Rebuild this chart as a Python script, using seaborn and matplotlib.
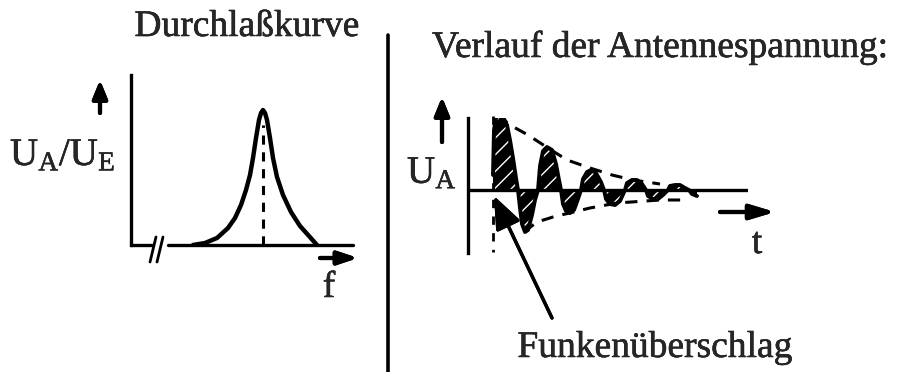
import numpy as np
import pandas as pd
import matplotlib.pyplot as plt
import seaborn as sns
from matplotlib.lines import Line2D
import matplotlib.patheffects as pe

# Durchlaßkurve (resonance curve) (arbitrary units)
f_vals = [6.2, 7.4, 8.6, 9.7, 10.4, 11.0, 11.5, 11.9, 12.2, 12.5, 12.8, 13.0, 13.2,
          13.4, 13.6, 13.9, 14.2, 14.6, 15.2, 16.0, 16.9, 17.8, 18.6]
ua_ue = [0.0, 0.2, 0.7, 1.7, 2.7, 4.0, 5.5, 7.0, 8.7, 10.7, 12.5, 13.2, 13.5,
         13.2, 12.5, 10.7, 8.7, 6.8, 5.0, 3.3, 1.9, 0.9, 0.0]
f_res = 13.2
res_top = 12.0

# Verlauf der Antennenspannung (damped oscillation)
t_vals = [2.5, 2.5, 2.6, 2.8, 3.1, 3.5, 3.9, 4.2, 4.5, 4.8, 5.0,
          5.2, 5.4, 5.7, 6.0, 6.4, 6.7, 7.0,
          7.2, 7.5, 7.9, 8.4, 8.8, 9.1, 9.3,
          9.5, 9.8, 10.2, 10.6, 11.0, 11.3,
          11.5, 11.9, 12.3, 12.8, 13.3, 13.6,
          13.8, 14.2, 14.7, 15.2, 15.7,
          15.9, 16.4, 16.9, 17.4, 17.8,
          18.0, 18.5, 19.0, 19.5, 20.0,
          20.2, 20.7, 21.2, 21.7, 22.1,
          22.4, 22.9]
ua_vals = [0.0, 3.0, 6.0, 7.2, 7.5, 7.3, 6.5, 5.0, 3.2, 1.2, 0.0,
           -1.8, -3.4, -4.2, -4.0, -2.5, -1.0, 0.0,
           2.4, 3.9, 4.3, 4.0, 2.6, 1.0, 0.0,
           -1.4, -2.1, -2.3, -2.0, -0.9, 0.0,
           1.1, 1.8, 2.0, 1.7, 0.8, 0.0,
           -0.9, -1.4, -1.5, -1.1, 0.0,
           0.7, 1.0, 1.0, 0.6, 0.0,
           -0.6, -0.9, -0.9, -0.5, 0.0,
           0.4, 0.5, 0.5, 0.2, 0.0,
           -0.4, -0.6]

# envelopes
env_up_t = [3.0, 4.2, 6.0, 8.0, 9.9, 12.2, 14.4, 16.5, 19.2]
env_up_u = [7.5, 6.5, 5.5, 4.2, 3.0, 2.2, 1.5, 1.0, 0.6]
env_lo_t = [5.6, 6.9, 8.5, 12.2, 14.9, 19.2, 21.9]
env_lo_u = [-4.2, -3.2, -2.7, -1.8, -1.3, -1.0, -1.0]
t_spark = 2.5

sns.set_style("white")
plt.rcParams['font.family'] = ['Liberation Serif', 'DejaVu Serif']
plt.rcParams['mathtext.fontset'] = 'custom'
plt.rcParams['mathtext.rm'] = 'Liberation Serif'
plt.rcParams['hatch.linewidth'] = 1.0

W, H = 897, 372
fig = plt.figure(figsize=(W / 100, H / 100), dpi=100)

def fx(px):
    return px / W

def fy(py):
    return 1 - py / H

# ---- left panel
ax1 = fig.add_axes([fx(131), fy(245), 222 / W, 170 / H])
ax1.set_xlim(0, 22.2)
ax1.set_ylim(0, 17)
sns.lineplot(x=f_vals, y=ua_ue, sort=False, color='black', lw=3.2, ax=ax1)
ax1.plot([f_res, f_res], [0, res_top], color='black', lw=2.2, ls=(0, (3, 2.5)))
for s in ['top', 'right', 'bottom']:
    ax1.spines[s].set_visible(False)
ax1.spines['left'].set_linewidth(2.4)
ax1.spines['left'].set_color('black')
ax1.axhline(0, xmin=0, xmax=0.095, color='black', lw=2.4, clip_on=False)
ax1.axhline(0, xmin=0.167, xmax=1, color='black', lw=2.4, clip_on=False)
ax1.plot([1.9, 2.5], [-1.7, 0.8], color='black', lw=2, clip_on=False)
ax1.plot([2.6, 3.2], [-1.7, 0.8], color='black', lw=2, clip_on=False)
ax1.set_xticks([])
ax1.set_yticks([])
ax1.patch.set_alpha(0)

# ---- right panel
ax2 = fig.add_axes([fx(468), fy(253), 280 / W, 135 / H])
ax2.set_xlim(0, 28)
ax2.set_ylim(-6.3, 7.2)
t_arr = np.array(t_vals)
u_arr = np.array(ua_vals)
ax2.fill_between(t_arr, u_arr, 0, facecolor='black', edgecolor='white',
                 hatch='//', lw=0, zorder=2)
sns.lineplot(x=t_vals, y=ua_vals, sort=False, color='black', lw=2.8, ax=ax2, zorder=3)
sns.lineplot(x=env_up_t, y=env_up_u, sort=False, color='black', lw=2.2,
             ls=(0, (4, 3)), ax=ax2)
sns.lineplot(x=env_lo_t, y=env_lo_u, sort=False, color='black', lw=2.2,
             ls=(0, (4, 3)), ax=ax2)
ax2.plot([t_spark, t_spark], [7.4, -6.2], color='black', lw=2,
         ls=(0, (3, 3)), clip_on=False)
ax2.axhline(0, color='black', lw=2.4, zorder=4)
for s in ['top', 'right', 'bottom']:
    ax2.spines[s].set_visible(False)
ax2.spines['left'].set_linewidth(2.4)
ax2.spines['left'].set_color('black')
ax2.set_xticks([])
ax2.set_yticks([])
ax2.patch.set_alpha(0)

# ---- arrows (figure pixels)
def arrow(p0, p1, hl=1.1, hw=0.45, lw=3):
    fig.add_artist(plt.annotate('', xy=(p1[0], H - p1[1]), xytext=(p0[0], H - p0[1]),
                                xycoords='figure pixels', textcoords='figure pixels',
                                arrowprops=dict(arrowstyle=f'-|>,head_length={hl},head_width={hw}',
                                                color='black', lw=lw, shrinkA=0, shrinkB=0)))

arrow((100, 113), (100, 80))
arrow((320, 258), (358, 258), hl=1.2, hw=0.4)
arrow((442, 142), (442, 97))
arrow((720, 212), (775, 212), hl=1.5, hw=0.45)
arrow((552, 318), (494, 196), hl=2.0, hw=0.8, lw=2.4)

# divider
fig.add_artist(Line2D([fx(388), fx(388)], [fy(35), fy(372)], color='black', lw=2.6))

# ---- texts (thin stroke to mimic the heavy print)
fs = 27
ink = [pe.withStroke(linewidth=0.35, foreground='black')]
fig.text(fx(247), fy(36), 'Durchlaßkurve', ha='center', va='baseline', fontsize=fs, path_effects=ink)
fig.text(fx(660), fy(57), 'Verlauf der Antennespannung:', ha='center', va='baseline',
         fontsize=fs, path_effects=ink)
fig.text(fx(655), fy(357), 'Funkenüberschlag', ha='center', va='baseline', fontsize=fs, path_effects=ink)
fig.text(fx(10), fy(165), r'$\mathrm{U_A/U_E}$', ha='left', va='baseline', fontsize=28, path_effects=ink)
fig.text(fx(407), fy(183), r'$\mathrm{U_A}$', ha='left', va='baseline', fontsize=28, path_effects=ink)
fig.text(fx(329), fy(297), 'f', ha='center', va='baseline', fontsize=fs, path_effects=ink)
fig.text(fx(757), fy(253), 't', ha='center', va='baseline', fontsize=fs, path_effects=ink)

fig.savefig('out.png', dpi=100, facecolor='white')
